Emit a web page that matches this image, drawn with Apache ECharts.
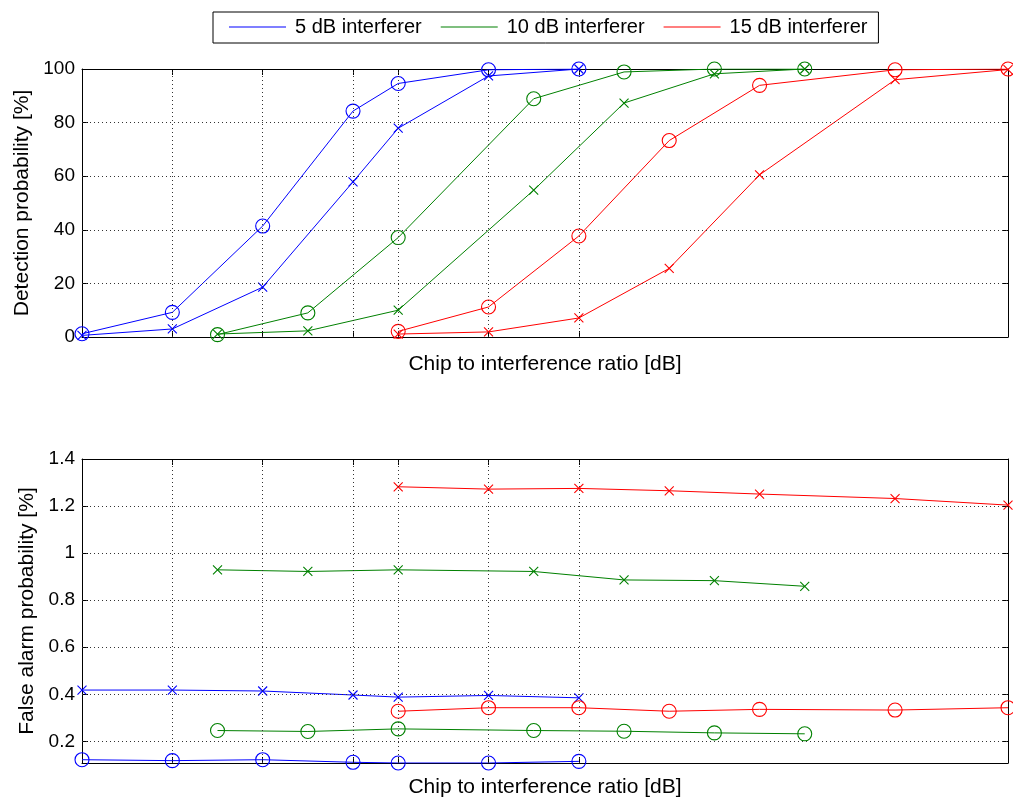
<!DOCTYPE html>
<html>
<head>
<meta charset="utf-8">
<script src="https://cdn.jsdelivr.net/npm/echarts@6/dist/echarts.min.js"></script>
<style>
html,body{margin:0;padding:0;background:#fff;}
#chart{width:1013px;height:803px;}
</style>
</head>
<body>
<div id="chart"></div>
<script>
// ---- data ----
const seriesNames = ['5 dB interferer', '10 dB interferer', '15 dB interferer'];
const xBlue  = [0, 2, 4, 6, 7, 9, 11];
const xGreen = [3, 5, 7, 10, 12, 14, 16];
const xRed   = [7, 9, 11, 13, 15, 18, 20.5];
const xGridTicks = [0, 2, 4, 6, 7, 9, 11];

// Detection probability [%]
const detBlueCircle  = [1.2, 9.2, 41.4, 84.3, 94.6, 99.7, 100];
const detBlueCross   = [0.6, 3.0, 18.6, 57.9, 77.9, 97.4, 100];
const detGreenCircle = [0.9, 9.0, 37.1, 88.9, 98.9, 100, 100];
const detGreenCross  = [1.1, 2.3, 10.0, 54.8, 87.3, 98.2, 100];
const detRedCircle   = [2.1, 11.2, 37.7, 73.3, 93.9, 99.7, 100];
const detRedCross    = [1.1, 1.9, 7.1, 25.6, 60.5, 96.0, 99.8];

// False alarm probability [%]
const faBlueCross    = [0.418, 0.418, 0.414, 0.397, 0.388, 0.395, 0.385];
const faBlueCircle   = [0.122, 0.118, 0.122, 0.111, 0.108, 0.108, 0.115];
const faGreenCross   = [0.929, 0.922, 0.929, 0.922, 0.886, 0.883, 0.859];
const faGreenCircle  = [0.246, 0.242, 0.253, 0.246, 0.243, 0.236, 0.232];
const faRedCross     = [1.282, 1.272, 1.275, 1.265, 1.251, 1.232, 1.204];
const faRedCircle    = [0.328, 0.343, 0.343, 0.328, 0.336, 0.333, 0.343];

const detYTicks = [0, 20, 40, 60, 80, 100];
const faYTicks = [0.2, 0.4, 0.6, 0.8, 1, 1.2, 1.4];

const colors = ['#0000ff', '#008000', '#ff0000'];
const FONT = '"Liberation Sans", Arial, Helvetica, sans-serif';
const crossPath = 'path://M0,0L10,10M10,0L0,10';

function pairs(xs, ys) { return xs.map((x, i) => [x, ys[i]]); }

function mk(idx, xs, ys, mark, axisIdx) {
  const c = colors[idx];
  const isCircle = mark === 'o';
  return {
    type: 'line',
    name: seriesNames[idx],
    xAxisIndex: axisIdx, yAxisIndex: axisIdx,
    data: pairs(xs, ys),
    symbol: isCircle ? 'circle' : crossPath,
    symbolSize: isCircle ? 14 : 9,
    showSymbol: true,
    animation: false,
    lineStyle: { color: c, width: 1 },
    itemStyle: { color: 'rgba(0,0,0,0)', borderColor: c, borderWidth: 1.1 },
    emphasis: { disabled: true },
    z: 3
  };
}

const gridStyle = { color: '#333', width: 1, type: [1, 3] };

function gridSeries(axisIdx, yVals) {
  const data = xGridTicks.filter(v => v > 0).map(v => ({ xAxis: v }));
  yVals.forEach(v => data.push({ yAxis: v }));
  return {
    type: 'line', data: [], xAxisIndex: axisIdx, yAxisIndex: axisIdx,
    silent: true, animation: false, z: 1,
    markLine: {
      silent: true, symbol: ['none', 'none'], animation: false,
      label: { show: false },
      lineStyle: gridStyle,
      emphasis: { disabled: true },
      data: data
    }
  };
}

const series = [];
// top: detection
series.push(mk(0, xBlue, detBlueCircle, 'o', 0));
series.push(mk(0, xBlue, detBlueCross, 'x', 0));
series.push(mk(1, xGreen, detGreenCircle, 'o', 0));
series.push(mk(1, xGreen, detGreenCross, 'x', 0));
series.push(mk(2, xRed, detRedCircle, 'o', 0));
series.push(mk(2, xRed, detRedCross, 'x', 0));
// bottom: false alarm
series.push(mk(0, xBlue, faBlueCircle, 'o', 2));
series.push(mk(0, xBlue, faBlueCross, 'x', 2));
series.push(mk(1, xGreen, faGreenCircle, 'o', 2));
series.push(mk(1, xGreen, faGreenCross, 'x', 2));
series.push(mk(2, xRed, faRedCircle, 'o', 2));
series.push(mk(2, xRed, faRedCross, 'x', 2));
series.push(gridSeries(0, detYTicks.filter(v => v > 0 && v < 100)));
series.push(gridSeries(2, faYTicks.filter(v => v < 1.4)));

const axisLine = { show: true, onZero: false, lineStyle: { color: '#000', width: 1 } };
const tickStyle = { show: true, inside: true, length: 6, lineStyle: { color: '#000', width: 1 } };

function xAxisPair(gridIndex, title, nameGap) {
  return [
    {
      type: 'value', gridIndex, position: 'bottom', min: 0, max: 20.5,
      name: title, nameLocation: 'middle', nameGap,
      nameTextStyle: { fontFamily: FONT, fontSize: 21, color: '#000' },
      axisLine, splitLine: { show: false },
      axisTick: Object.assign({ customValues: xGridTicks }, tickStyle),
      axisLabel: { show: false, customValues: xGridTicks }
    },
    {
      type: 'value', gridIndex, position: 'top', min: 0, max: 20.5,
      axisLine, splitLine: { show: false },
      axisTick: Object.assign({ customValues: xGridTicks }, tickStyle),
      axisLabel: { show: false, customValues: xGridTicks }
    }
  ];
}

function yAxisPair(gridIndex, min, max, ticks, title, nameGap, fmt) {
  return [
    {
      type: 'value', gridIndex, position: 'left', min, max,
      name: title, nameLocation: 'middle', nameGap, nameRotate: 90,
      nameTextStyle: { fontFamily: FONT, fontSize: 21, color: '#000' },
      axisLine, splitLine: { show: false },
      axisTick: Object.assign({ customValues: ticks }, tickStyle),
      axisLabel: { customValues: ticks, margin: 7, fontFamily: FONT, fontSize: 19, color: '#000', formatter: fmt }
    },
    {
      type: 'value', gridIndex, position: 'right', min, max,
      axisLine, splitLine: { show: false },
      axisTick: Object.assign({ customValues: ticks }, tickStyle),
      axisLabel: { show: false, customValues: ticks }
    }
  ];
}

const x0 = xAxisPair(0, 'Chip to interference ratio [dB]', 17);
const x1 = xAxisPair(1, 'Chip to interference ratio [dB]', 14);
const y0 = yAxisPair(0, 0, 100, detYTicks, 'Detection probability [%]', 48, v => String(v));
const y1 = yAxisPair(1, 0.108, 1.4, faYTicks, 'False alarm probability [%]', 41, v => String(Math.round(v * 10) / 10));

const option = {
  backgroundColor: '#fff',
  animation: false,
  textStyle: { fontFamily: FONT },
  legend: {
    left: 213, top: 12,
    orient: 'horizontal',
    data: seriesNames.map((n, i) => ({ name: n, icon: 'rect', itemStyle: { color: colors[i], borderWidth: 0, opacity: 1 } })),
    icon: 'rect',
    itemWidth: 57, itemHeight: 1,
    itemGap: 19,
    padding: [5, 11, 6, 16],
    borderColor: '#000', borderWidth: 1,
    selectedMode: false,
    textStyle: { fontFamily: FONT, fontSize: 20, color: '#000', padding: [0, 0, 0, 4] }
  },
  grid: [
    { left: 82, right: 5, top: 69, height: 268, containLabel: false },
    { left: 82, right: 5, top: 459, height: 304, containLabel: false }
  ],
  xAxis: [x0[0], x0[1], x1[0], x1[1]],
  yAxis: [y0[0], y0[1], y1[0], y1[1]],
  series
};

const chart = echarts.init(document.getElementById('chart'), null, { renderer: 'canvas' });
chart.setOption(option);
</script>
</body>
</html>
